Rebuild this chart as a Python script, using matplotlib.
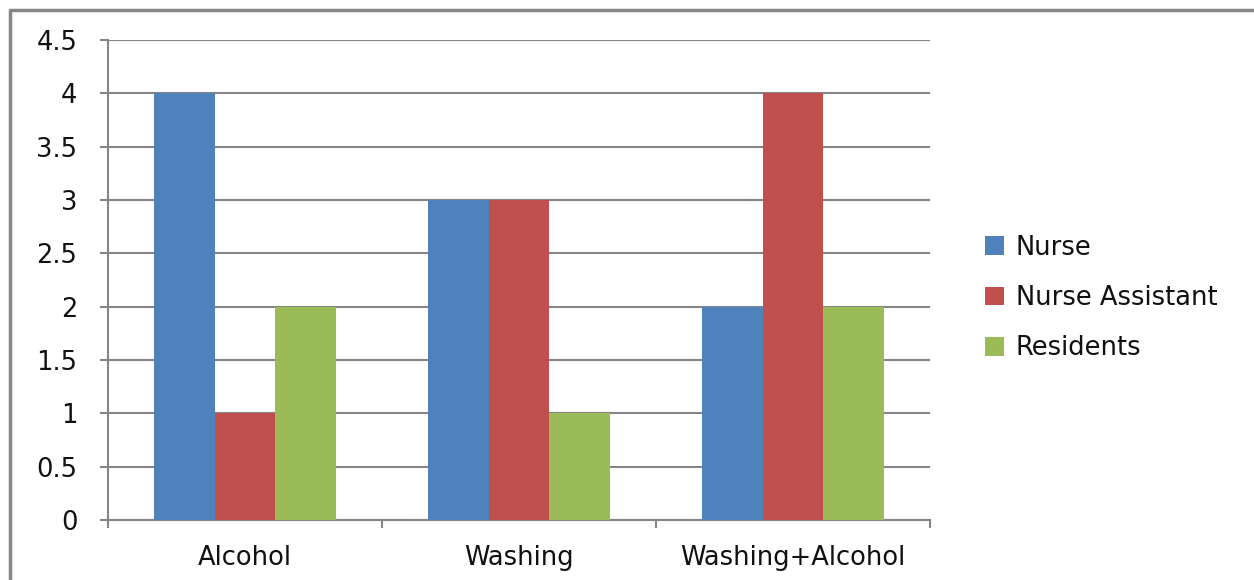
import numpy as np
import matplotlib as mpl
mpl.use('Agg')
import matplotlib.pyplot as plt
from matplotlib.lines import Line2D

categories = ['Alcohol', 'Washing', 'Washing+Alcohol']
series = ['Nurse', 'Nurse Assistant', 'Residents']
nurse = [4, 3, 2]
nurse_assistant = [1, 3, 4]
residents = [2, 1, 2]
yticks = [0, 0.5, 1, 1.5, 2, 2.5, 3, 3.5, 4, 4.5]
ytick_labels = ['0', '0.5', '1', '1.5', '2', '2.5', '3', '3.5', '4', '4.5']

colors = ['#4F81BD', '#C0504D', '#9BBB59']
grid_c = '#868686'
fs = 18.5

plt.rcParams['font.family'] = ['DejaVu Sans']

fig = plt.figure(figsize=(12.54, 5.8), dpi=100)
ax = fig.add_axes([108/1254, 1-520/580, (930-108)/1254, (520-40)/580])

x = np.arange(len(categories)) + 0.5
w = 0.222
for i, (vals, name) in enumerate(zip([nurse, nurse_assistant, residents], series)):
    ax.bar(x + (i-1)*w, vals, w, color=colors[i], label=name, zorder=3)

ax.set_xlim(0, 3)
ax.set_ylim(0, 4.5)
ax.set_yticks(yticks)
ax.set_yticklabels(ytick_labels, fontsize=fs, color='#111111')
ax.yaxis.grid(True, color=grid_c, lw=1.5, zorder=0)
ax.set_xticks([0, 1, 2, 3])
ax.set_xticklabels([])
ax.set_xticks(x, minor=True)
ax.set_xticklabels(categories, minor=True, fontsize=fs, color='#111111')
ax.tick_params(axis='x', which='minor', length=0, pad=18)
ax.tick_params(axis='x', which='major', length=6, width=1.5, color=grid_c)
ax.tick_params(axis='y', length=6, width=1.5, color=grid_c, pad=16)
for s in ['top', 'right']:
    ax.spines[s].set_visible(False)
for s in ['left', 'bottom']:
    ax.spines[s].set_color(grid_c)
    ax.spines[s].set_linewidth(1.5)

leg = fig.legend(loc='center left', bbox_to_anchor=(962/1254, 1-298/580),
                 frameon=False, fontsize=fs, handlelength=0.75, handleheight=0.75,
                 handletextpad=0.45, labelspacing=0.95)
for t in leg.get_texts():
    t.set_color('#111111')

# outer chart border
bx, by = 10/1254, 1-10/580
fig.add_artist(Line2D([bx, bx, 1], [0, by, by], transform=fig.transFigure,
                      color=grid_c, lw=2.5))

plt.savefig('out.png', dpi=100)
